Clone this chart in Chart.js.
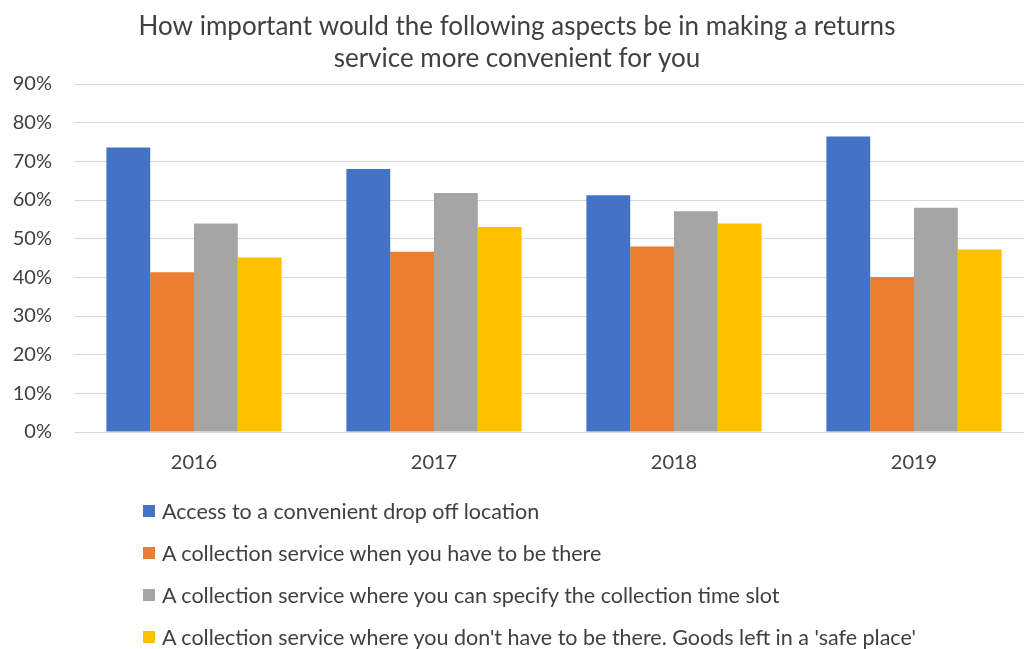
<!DOCTYPE html>
<html>
<head>
<meta charset="utf-8">
<script src="https://cdn.jsdelivr.net/npm/chart.js@4.4.1/dist/chart.umd.min.js"></script>
<style>
  html, body { margin: 0; padding: 0; background: #fff; overflow: hidden; width: 1024px; height: 649px; }
  #wrap { position: absolute; left: 0; top: 0; width: 1034px; height: 498px; }
  #legend { position: absolute; left: 143px; top: 490px; font-family: Lato, sans-serif; font-size: 21.5px; color: #404040; }
  .item { height: 42px; display: flex; align-items: center; white-space: nowrap; }
  .sw { width: 12px; height: 12px; margin-right: 7px; flex: none; }
</style>
</head>
<body>
<div id="wrap"><canvas id="c"></canvas></div>
<div id="legend"></div>
<script>
const titleLines = ["How important would the following aspects be in making a returns", "service more convenient for you"];
const categories = ["2016", "2017", "2018", "2019"];
const seriesNames = [
  "Access to a convenient drop off location",
  "A collection service when you have to be there",
  "A collection service where you can specify the collection time slot",
  "A collection service where you don't have to be there. Goods left in a 'safe place'"
];
const dropOff = [73.6, 68.0, 61.2, 76.4];
const collectBeThere = [41.3, 46.6, 48.0, 40.1];
const collectTimeSlot = [53.9, 61.8, 57.1, 58.0];
const collectSafePlace = [45.1, 53.0, 53.9, 47.2];
const yTicks = [0, 10, 20, 30, 40, 50, 60, 70, 80, 90];
const colors = ["#4472C4", "#ED7D31", "#A5A5A5", "#FFC000"];
const seriesValues = [dropOff, collectBeThere, collectTimeSlot, collectSafePlace];

const datasets = seriesNames.map((n, i) => ({
  label: n,
  data: seriesValues[i],
  backgroundColor: colors[i],
  borderWidth: 0,
  categoryPercentage: 0.73,
  barPercentage: 1.0
}));

const chart = new Chart(document.getElementById('c'), {
  type: 'bar',
  data: { labels: categories, datasets },
  options: {
    responsive: true,
    maintainAspectRatio: false,
    animation: false,
    layout: { padding: { left: 0, right: 0, top: 0, bottom: 4 } },
    plugins: {
      legend: { display: false },
      tooltip: { enabled: false },
      title: {
        display: true,
        text: titleLines,
        color: '#404040',
        font: { family: 'Lato', size: 26, weight: 'normal', lineHeight: 32 / 26 },
        padding: { top: 11, bottom: 9 }
      }
    },
    scales: {
      x: {
        grid: { display: false, drawTicks: false },
        border: { display: true, color: '#D9D9D9', width: 1 },
        ticks: { color: '#404040', font: { family: 'Lato', size: 20 }, padding: 19 }
      },
      y: {
        min: 0, max: 90,
        afterBuildTicks: s => { s.ticks = yTicks.map(v => ({ value: v })); },
        afterFit: s => { s.width = 74; },
        grid: { color: '#D9D9D9', lineWidth: 1, drawTicks: false },
        border: { display: false },
        ticks: { color: '#404040', font: { family: 'Lato', size: 20 }, padding: 22, callback: v => v + '%' }
      }
    }
  }
});

const lg = document.getElementById('legend');
seriesNames.forEach((n, i) => {
  const d = document.createElement('div');
  d.className = 'item';
  d.innerHTML = '<span class="sw" style="background:' + colors[i] + '"></span><span></span>';
  d.lastChild.textContent = n;
  lg.appendChild(d);
});
</script>
</body>
</html>
